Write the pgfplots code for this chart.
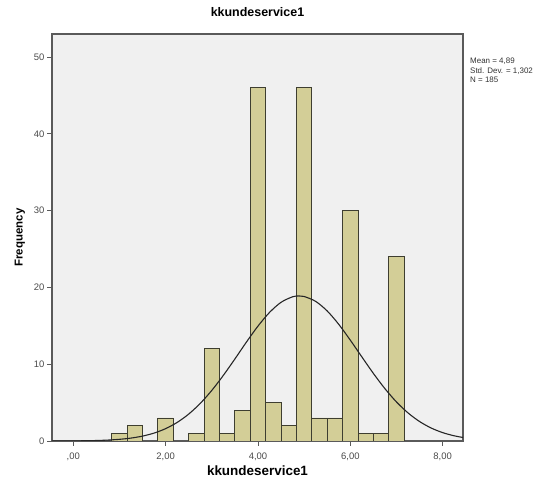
\documentclass[border=0pt]{standalone}
\usepackage{pgfplots}
\pgfplotsset{compat=1.18}
\usepackage{fontspec}
\setmainfont{Liberation Sans}

\definecolor{plotbg}{HTML}{F0F0F0}
\definecolor{barfill}{HTML}{D3CE97}
\definecolor{baredge}{HTML}{3E3E30}
\definecolor{framecol}{HTML}{5A5A5A}
\definecolor{ticktext}{HTML}{4A4A4A}

\begin{document}
\begin{tikzpicture}[x=1bp,y=1bp]
\path[use as bounding box] (0,0) rectangle (556,485);
\begin{axis}[
  at={(52bp,44bp)}, anchor=south west,
  scale only axis,
  width=411bp, height=407bp,
  xmin=-0.46, xmax=8.44,
  ymin=0, ymax=53,
  axis background/.style={fill=plotbg},
  axis line style={framecol, line width=1.1pt},
  xtick={0,2,4,6,8},
  xticklabels={{,00},{2,00},{4,00},{6,00},{8,00}},
  ytick={0,10,20,30,40,50},
  tick align=outside,
  xtick pos=bottom, ytick pos=left,
  major tick length=5bp,
  tick style={framecol, line width=0.9pt},
  /pgf/number format/assume math mode=true,
  ticklabel style={font=\fontsize{9.5}{11}\selectfont, text=ticktext},
  xticklabel style={yshift=-3bp},
  yticklabel style={xshift=1bp},
  title={\bfseries kkundeservice1},
  title style={font=\fontsize{12.5}{14}\selectfont, at={(0.5,1)}, yshift=8bp},
  xlabel={\bfseries kkundeservice1},
  xlabel style={font=\fontsize{13.5}{16}\selectfont, yshift=1bp},
  ylabel={\bfseries Frequency},
  ylabel style={font=\fontsize{11.5}{13}\selectfont, yshift=2bp},
  clip=true,
]
% histogram bins (width 1/3)
\addplot[ybar, bar width=0.3333, bar shift=0pt, fill=barfill, draw=baredge, line width=0.9pt]
  coordinates {
    (1,1) (1.3333,2) (2,3) (2.6667,1) (3,12) (3.3333,1) (3.6667,4)
    (4,46) (4.3333,5) (4.6667,2) (5,46) (5.3333,3) (5.6667,3)
    (6,30) (6.3333,1) (6.6667,1) (7,24)
  };
% fitted normal curve (mean 4.89, sd 1.302, N 185)
\addplot[smooth, black!85, line width=1.1pt] coordinates {
  (-0.46,0.004) (0,0.016) (0.25,0.033) (0.5,0.064) (0.75,0.121)
  (1,0.218) (1.25,0.379) (1.5,0.637) (1.75,1.031) (2,1.608)
  (2.25,2.418) (2.5,3.504) (2.75,4.893) (3,6.587) (3.25,8.544)
  (3.5,10.68) (3.75,12.88) (4,14.96) (4.25,16.74) (4.5,18.06)
  (4.75,18.78) (4.89,18.89) (5,18.82) (5.25,18.18) (5.5,16.93)
  (5.75,15.19) (6,13.13) (6.25,10.95) (6.5,8.795) (6.75,6.810)
  (7,5.081) (7.25,3.654) (7.5,2.533) (7.75,1.692) (8,1.089)
  (8.25,0.676) (8.44,0.459)
};
\end{axis}
% summary statistics
\node[anchor=north west, align=left, inner sep=0pt,
      font=\fontsize{8}{9.6}\selectfont, text=black!80]
  at (470,427) {Mean = 4,89\\Std. Dev. = 1,302\\N = 185};
\end{tikzpicture}
\end{document}
